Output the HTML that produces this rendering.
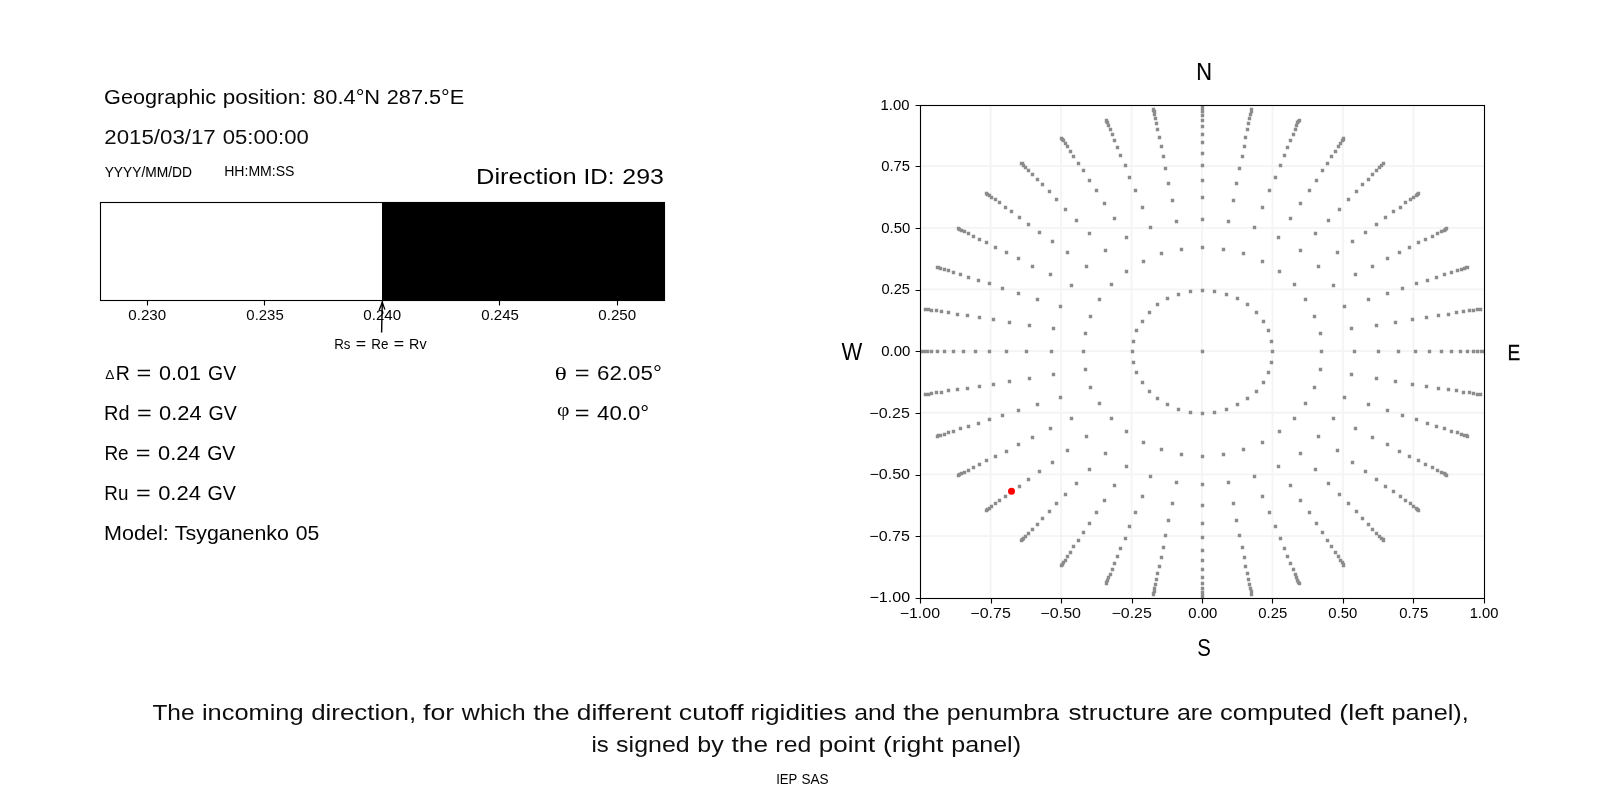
<!DOCTYPE html>
<html><head><meta charset="utf-8"><title>Cutoff rigidity direction</title>
<style>
html,body{margin:0;padding:0;background:#fff;width:1600px;height:800px;overflow:hidden}
svg{display:block;will-change:transform}
text{white-space:pre}
</style></head><body>
<svg width="1600" height="800" viewBox="0 0 1600 800">
<rect x="382" y="202" width="283.00" height="99" fill="#000"/>
<rect x="100.5" y="202.5" width="564.0" height="98.0" fill="none" stroke="#000" stroke-width="1.11"/>
<path d="M147.5 300.5v4.9M264.5 300.5v4.9M382.5 300.5v4.9M499.5 300.5v4.9M617.5 300.5v4.9" stroke="#000" stroke-width="1.11" fill="none"/>
<line x1="381.6" y1="332.6" x2="382.3" y2="301.5" stroke="#000" stroke-width="1.4"/>
<polyline points="379.2,310 382.3,302.4 384.9,309.6" fill="none" stroke="#000" stroke-width="1.3"/>
<path d="M990.65 105.5V598.5M920.5 536.05H1484.5M1061.10 105.5V598.5M920.5 474.40H1484.5M1131.55 105.5V598.5M920.5 412.75H1484.5M1202.00 105.5V598.5M920.5 351.10H1484.5M1272.45 105.5V598.5M920.5 289.45H1484.5M1342.90 105.5V598.5M920.5 227.80H1484.5M1413.35 105.5V598.5M920.5 166.15H1484.5" stroke="#f4f4f4" stroke-width="1.8" fill="none"/>
<clipPath id="axc"><rect x="920.5" y="105.5" width="564.00" height="493.00"/></clipPath>
<path d="M1200.8 349.8h3.4v3.4h-3.4zM1130.8 349.8h3.4v3.4h-3.4zM1131.8 360.8h3.4v3.4h-3.4zM1134.8 370.8h3.4v3.4h-3.4zM1140.8 380.8h3.4v3.4h-3.4zM1147.8 389.8h3.4v3.4h-3.4zM1155.8 396.8h3.4v3.4h-3.4zM1165.8 402.8h3.4v3.4h-3.4zM1176.8 407.8h3.4v3.4h-3.4zM1188.8 410.8h3.4v3.4h-3.4zM1200.8 411.8h3.4v3.4h-3.4zM1212.8 410.8h3.4v3.4h-3.4zM1224.8 407.8h3.4v3.4h-3.4zM1235.8 402.8h3.4v3.4h-3.4zM1245.8 396.8h3.4v3.4h-3.4zM1254.8 389.8h3.4v3.4h-3.4zM1261.8 380.8h3.4v3.4h-3.4zM1266.8 370.8h3.4v3.4h-3.4zM1269.8 360.8h3.4v3.4h-3.4zM1270.8 349.8h3.4v3.4h-3.4zM1269.8 339.8h3.4v3.4h-3.4zM1266.8 328.8h3.4v3.4h-3.4zM1261.8 319.8h3.4v3.4h-3.4zM1254.8 310.8h3.4v3.4h-3.4zM1245.8 302.8h3.4v3.4h-3.4zM1235.8 296.8h3.4v3.4h-3.4zM1224.8 292.8h3.4v3.4h-3.4zM1212.8 289.8h3.4v3.4h-3.4zM1200.8 288.8h3.4v3.4h-3.4zM1188.8 289.8h3.4v3.4h-3.4zM1176.8 292.8h3.4v3.4h-3.4zM1165.8 296.8h3.4v3.4h-3.4zM1155.8 302.8h3.4v3.4h-3.4zM1147.8 310.8h3.4v3.4h-3.4zM1140.8 319.8h3.4v3.4h-3.4zM1134.8 328.8h3.4v3.4h-3.4zM1131.8 339.8h3.4v3.4h-3.4zM1081.8 349.8h3.4v3.4h-3.4zM1083.8 367.8h3.4v3.4h-3.4zM1088.8 385.8h3.4v3.4h-3.4zM1097.8 401.8h3.4v3.4h-3.4zM1109.8 416.8h3.4v3.4h-3.4zM1124.8 429.8h3.4v3.4h-3.4zM1141.8 440.8h3.4v3.4h-3.4zM1159.8 447.8h3.4v3.4h-3.4zM1179.8 452.8h3.4v3.4h-3.4zM1200.8 454.8h3.4v3.4h-3.4zM1221.8 452.8h3.4v3.4h-3.4zM1241.8 447.8h3.4v3.4h-3.4zM1260.8 440.8h3.4v3.4h-3.4zM1277.8 429.8h3.4v3.4h-3.4zM1292.8 416.8h3.4v3.4h-3.4zM1303.8 401.8h3.4v3.4h-3.4zM1312.8 385.8h3.4v3.4h-3.4zM1318.8 367.8h3.4v3.4h-3.4zM1319.8 349.8h3.4v3.4h-3.4zM1318.8 331.8h3.4v3.4h-3.4zM1312.8 314.8h3.4v3.4h-3.4zM1303.8 297.8h3.4v3.4h-3.4zM1292.8 282.8h3.4v3.4h-3.4zM1277.8 269.8h3.4v3.4h-3.4zM1260.8 259.8h3.4v3.4h-3.4zM1241.8 251.8h3.4v3.4h-3.4zM1221.8 247.8h3.4v3.4h-3.4zM1200.8 245.8h3.4v3.4h-3.4zM1179.8 247.8h3.4v3.4h-3.4zM1159.8 251.8h3.4v3.4h-3.4zM1141.8 259.8h3.4v3.4h-3.4zM1124.8 269.8h3.4v3.4h-3.4zM1109.8 282.8h3.4v3.4h-3.4zM1097.8 297.8h3.4v3.4h-3.4zM1088.8 314.8h3.4v3.4h-3.4zM1083.8 331.8h3.4v3.4h-3.4zM1049.8 349.8h3.4v3.4h-3.4zM1051.8 372.8h3.4v3.4h-3.4zM1058.8 395.8h3.4v3.4h-3.4zM1069.8 416.8h3.4v3.4h-3.4zM1084.8 434.8h3.4v3.4h-3.4zM1103.8 451.8h3.4v3.4h-3.4zM1124.8 464.8h3.4v3.4h-3.4zM1148.8 474.8h3.4v3.4h-3.4zM1174.8 480.8h3.4v3.4h-3.4zM1200.8 482.8h3.4v3.4h-3.4zM1226.8 480.8h3.4v3.4h-3.4zM1252.8 474.8h3.4v3.4h-3.4zM1276.8 464.8h3.4v3.4h-3.4zM1298.8 451.8h3.4v3.4h-3.4zM1316.8 434.8h3.4v3.4h-3.4zM1331.8 416.8h3.4v3.4h-3.4zM1342.8 395.8h3.4v3.4h-3.4zM1349.8 372.8h3.4v3.4h-3.4zM1352.8 349.8h3.4v3.4h-3.4zM1349.8 326.8h3.4v3.4h-3.4zM1342.8 304.8h3.4v3.4h-3.4zM1331.8 283.8h3.4v3.4h-3.4zM1316.8 264.8h3.4v3.4h-3.4zM1298.8 248.8h3.4v3.4h-3.4zM1276.8 235.8h3.4v3.4h-3.4zM1252.8 225.8h3.4v3.4h-3.4zM1226.8 219.8h3.4v3.4h-3.4zM1200.8 217.8h3.4v3.4h-3.4zM1174.8 219.8h3.4v3.4h-3.4zM1148.8 225.8h3.4v3.4h-3.4zM1124.8 235.8h3.4v3.4h-3.4zM1103.8 248.8h3.4v3.4h-3.4zM1084.8 264.8h3.4v3.4h-3.4zM1069.8 283.8h3.4v3.4h-3.4zM1058.8 304.8h3.4v3.4h-3.4zM1051.8 326.8h3.4v3.4h-3.4zM1024.8 349.8h3.4v3.4h-3.4zM1027.8 376.8h3.4v3.4h-3.4zM1035.8 402.8h3.4v3.4h-3.4zM1048.8 426.8h3.4v3.4h-3.4zM1065.8 448.8h3.4v3.4h-3.4zM1087.8 467.8h3.4v3.4h-3.4zM1112.8 483.8h3.4v3.4h-3.4zM1140.8 494.8h3.4v3.4h-3.4zM1170.8 501.8h3.4v3.4h-3.4zM1200.8 503.8h3.4v3.4h-3.4zM1231.8 501.8h3.4v3.4h-3.4zM1260.8 494.8h3.4v3.4h-3.4zM1288.8 483.8h3.4v3.4h-3.4zM1313.8 467.8h3.4v3.4h-3.4zM1335.8 448.8h3.4v3.4h-3.4zM1353.8 426.8h3.4v3.4h-3.4zM1366.8 402.8h3.4v3.4h-3.4zM1374.8 376.8h3.4v3.4h-3.4zM1376.8 349.8h3.4v3.4h-3.4zM1374.8 323.8h3.4v3.4h-3.4zM1366.8 297.8h3.4v3.4h-3.4zM1353.8 272.8h3.4v3.4h-3.4zM1335.8 250.8h3.4v3.4h-3.4zM1313.8 231.8h3.4v3.4h-3.4zM1288.8 216.8h3.4v3.4h-3.4zM1260.8 205.8h3.4v3.4h-3.4zM1231.8 198.8h3.4v3.4h-3.4zM1200.8 195.8h3.4v3.4h-3.4zM1170.8 198.8h3.4v3.4h-3.4zM1140.8 205.8h3.4v3.4h-3.4zM1112.8 216.8h3.4v3.4h-3.4zM1087.8 231.8h3.4v3.4h-3.4zM1065.8 250.8h3.4v3.4h-3.4zM1048.8 272.8h3.4v3.4h-3.4zM1035.8 297.8h3.4v3.4h-3.4zM1027.8 323.8h3.4v3.4h-3.4zM1004.8 349.8h3.4v3.4h-3.4zM1007.8 379.8h3.4v3.4h-3.4zM1016.8 408.8h3.4v3.4h-3.4zM1030.8 435.8h3.4v3.4h-3.4zM1050.8 460.8h3.4v3.4h-3.4zM1074.8 481.8h3.4v3.4h-3.4zM1102.8 498.8h3.4v3.4h-3.4zM1133.8 510.8h3.4v3.4h-3.4zM1166.8 518.8h3.4v3.4h-3.4zM1200.8 521.8h3.4v3.4h-3.4zM1234.8 518.8h3.4v3.4h-3.4zM1267.8 510.8h3.4v3.4h-3.4zM1298.8 498.8h3.4v3.4h-3.4zM1326.8 481.8h3.4v3.4h-3.4zM1350.8 460.8h3.4v3.4h-3.4zM1370.8 435.8h3.4v3.4h-3.4zM1385.8 408.8h3.4v3.4h-3.4zM1393.8 379.8h3.4v3.4h-3.4zM1396.8 349.8h3.4v3.4h-3.4zM1393.8 320.8h3.4v3.4h-3.4zM1385.8 291.8h3.4v3.4h-3.4zM1370.8 264.8h3.4v3.4h-3.4zM1350.8 239.8h3.4v3.4h-3.4zM1326.8 218.8h3.4v3.4h-3.4zM1298.8 201.8h3.4v3.4h-3.4zM1267.8 188.8h3.4v3.4h-3.4zM1234.8 181.8h3.4v3.4h-3.4zM1200.8 178.8h3.4v3.4h-3.4zM1166.8 181.8h3.4v3.4h-3.4zM1133.8 188.8h3.4v3.4h-3.4zM1102.8 201.8h3.4v3.4h-3.4zM1074.8 218.8h3.4v3.4h-3.4zM1050.8 239.8h3.4v3.4h-3.4zM1030.8 264.8h3.4v3.4h-3.4zM1016.8 291.8h3.4v3.4h-3.4zM1007.8 320.8h3.4v3.4h-3.4zM987.8 349.8h3.4v3.4h-3.4zM991.8 382.8h3.4v3.4h-3.4zM1000.8 413.8h3.4v3.4h-3.4zM1016.8 442.8h3.4v3.4h-3.4zM1037.8 469.8h3.4v3.4h-3.4zM1063.8 492.8h3.4v3.4h-3.4zM1094.8 510.8h3.4v3.4h-3.4zM1127.8 524.8h3.4v3.4h-3.4zM1163.8 533.8h3.4v3.4h-3.4zM1200.8 535.8h3.4v3.4h-3.4zM1237.8 533.8h3.4v3.4h-3.4zM1273.8 524.8h3.4v3.4h-3.4zM1307.8 510.8h3.4v3.4h-3.4zM1337.8 492.8h3.4v3.4h-3.4zM1363.8 469.8h3.4v3.4h-3.4zM1385.8 442.8h3.4v3.4h-3.4zM1400.8 413.8h3.4v3.4h-3.4zM1410.8 382.8h3.4v3.4h-3.4zM1413.8 349.8h3.4v3.4h-3.4zM1410.8 317.8h3.4v3.4h-3.4zM1400.8 286.8h3.4v3.4h-3.4zM1385.8 256.8h3.4v3.4h-3.4zM1363.8 230.8h3.4v3.4h-3.4zM1337.8 207.8h3.4v3.4h-3.4zM1307.8 188.8h3.4v3.4h-3.4zM1273.8 175.8h3.4v3.4h-3.4zM1237.8 166.8h3.4v3.4h-3.4zM1200.8 163.8h3.4v3.4h-3.4zM1163.8 166.8h3.4v3.4h-3.4zM1127.8 175.8h3.4v3.4h-3.4zM1094.8 188.8h3.4v3.4h-3.4zM1063.8 207.8h3.4v3.4h-3.4zM1037.8 230.8h3.4v3.4h-3.4zM1016.8 256.8h3.4v3.4h-3.4zM1000.8 286.8h3.4v3.4h-3.4zM991.8 317.8h3.4v3.4h-3.4zM973.8 349.8h3.4v3.4h-3.4zM977.8 384.8h3.4v3.4h-3.4zM987.8 417.8h3.4v3.4h-3.4zM1004.8 449.8h3.4v3.4h-3.4zM1026.8 477.8h3.4v3.4h-3.4zM1054.8 501.8h3.4v3.4h-3.4zM1087.8 521.8h3.4v3.4h-3.4zM1123.8 536.8h3.4v3.4h-3.4zM1161.8 545.8h3.4v3.4h-3.4zM1200.8 548.8h3.4v3.4h-3.4zM1240.8 545.8h3.4v3.4h-3.4zM1278.8 536.8h3.4v3.4h-3.4zM1314.8 521.8h3.4v3.4h-3.4zM1346.8 501.8h3.4v3.4h-3.4zM1374.8 477.8h3.4v3.4h-3.4zM1397.8 449.8h3.4v3.4h-3.4zM1414.8 417.8h3.4v3.4h-3.4zM1424.8 384.8h3.4v3.4h-3.4zM1427.8 349.8h3.4v3.4h-3.4zM1424.8 315.8h3.4v3.4h-3.4zM1414.8 281.8h3.4v3.4h-3.4zM1397.8 250.8h3.4v3.4h-3.4zM1374.8 222.8h3.4v3.4h-3.4zM1346.8 197.8h3.4v3.4h-3.4zM1314.8 178.8h3.4v3.4h-3.4zM1278.8 163.8h3.4v3.4h-3.4zM1240.8 154.8h3.4v3.4h-3.4zM1200.8 151.8h3.4v3.4h-3.4zM1161.8 154.8h3.4v3.4h-3.4zM1123.8 163.8h3.4v3.4h-3.4zM1087.8 178.8h3.4v3.4h-3.4zM1054.8 197.8h3.4v3.4h-3.4zM1026.8 222.8h3.4v3.4h-3.4zM1004.8 250.8h3.4v3.4h-3.4zM987.8 281.8h3.4v3.4h-3.4zM977.8 315.8h3.4v3.4h-3.4zM961.8 349.8h3.4v3.4h-3.4zM965.8 386.8h3.4v3.4h-3.4zM976.8 421.8h3.4v3.4h-3.4zM993.8 454.8h3.4v3.4h-3.4zM1017.8 484.8h3.4v3.4h-3.4zM1047.8 509.8h3.4v3.4h-3.4zM1081.8 530.8h3.4v3.4h-3.4zM1118.8 546.8h3.4v3.4h-3.4zM1159.8 555.8h3.4v3.4h-3.4zM1200.8 558.8h3.4v3.4h-3.4zM1242.8 555.8h3.4v3.4h-3.4zM1282.8 546.8h3.4v3.4h-3.4zM1320.8 530.8h3.4v3.4h-3.4zM1354.8 509.8h3.4v3.4h-3.4zM1383.8 484.8h3.4v3.4h-3.4zM1407.8 454.8h3.4v3.4h-3.4zM1425.8 421.8h3.4v3.4h-3.4zM1436.8 386.8h3.4v3.4h-3.4zM1439.8 349.8h3.4v3.4h-3.4zM1436.8 313.8h3.4v3.4h-3.4zM1425.8 278.8h3.4v3.4h-3.4zM1407.8 245.8h3.4v3.4h-3.4zM1383.8 215.8h3.4v3.4h-3.4zM1354.8 189.8h3.4v3.4h-3.4zM1320.8 168.8h3.4v3.4h-3.4zM1282.8 153.8h3.4v3.4h-3.4zM1242.8 144.8h3.4v3.4h-3.4zM1200.8 140.8h3.4v3.4h-3.4zM1159.8 144.8h3.4v3.4h-3.4zM1118.8 153.8h3.4v3.4h-3.4zM1081.8 168.8h3.4v3.4h-3.4zM1047.8 189.8h3.4v3.4h-3.4zM1017.8 215.8h3.4v3.4h-3.4zM993.8 245.8h3.4v3.4h-3.4zM976.8 278.8h3.4v3.4h-3.4zM965.8 313.8h3.4v3.4h-3.4zM951.8 349.8h3.4v3.4h-3.4zM955.8 387.8h3.4v3.4h-3.4zM966.8 424.8h3.4v3.4h-3.4zM984.8 458.8h3.4v3.4h-3.4zM1009.8 489.8h3.4v3.4h-3.4zM1040.8 516.8h3.4v3.4h-3.4zM1076.8 538.8h3.4v3.4h-3.4zM1115.8 554.8h3.4v3.4h-3.4zM1157.8 564.8h3.4v3.4h-3.4zM1200.8 567.8h3.4v3.4h-3.4zM1243.8 564.8h3.4v3.4h-3.4zM1285.8 554.8h3.4v3.4h-3.4zM1325.8 538.8h3.4v3.4h-3.4zM1360.8 516.8h3.4v3.4h-3.4zM1391.8 489.8h3.4v3.4h-3.4zM1416.8 458.8h3.4v3.4h-3.4zM1434.8 424.8h3.4v3.4h-3.4zM1446.8 387.8h3.4v3.4h-3.4zM1449.8 349.8h3.4v3.4h-3.4zM1446.8 312.8h3.4v3.4h-3.4zM1434.8 275.8h3.4v3.4h-3.4zM1416.8 240.8h3.4v3.4h-3.4zM1391.8 209.8h3.4v3.4h-3.4zM1360.8 182.8h3.4v3.4h-3.4zM1325.8 161.8h3.4v3.4h-3.4zM1285.8 145.8h3.4v3.4h-3.4zM1243.8 135.8h3.4v3.4h-3.4zM1200.8 132.8h3.4v3.4h-3.4zM1157.8 135.8h3.4v3.4h-3.4zM1115.8 145.8h3.4v3.4h-3.4zM1076.8 161.8h3.4v3.4h-3.4zM1040.8 182.8h3.4v3.4h-3.4zM1009.8 209.8h3.4v3.4h-3.4zM984.8 240.8h3.4v3.4h-3.4zM966.8 275.8h3.4v3.4h-3.4zM955.8 312.8h3.4v3.4h-3.4zM942.8 349.8h3.4v3.4h-3.4zM946.8 388.8h3.4v3.4h-3.4zM958.8 426.8h3.4v3.4h-3.4zM977.8 462.8h3.4v3.4h-3.4zM1003.8 494.8h3.4v3.4h-3.4zM1035.8 522.8h3.4v3.4h-3.4zM1071.8 544.8h3.4v3.4h-3.4zM1112.8 561.8h3.4v3.4h-3.4zM1155.8 571.8h3.4v3.4h-3.4zM1200.8 575.8h3.4v3.4h-3.4zM1245.8 571.8h3.4v3.4h-3.4zM1288.8 561.8h3.4v3.4h-3.4zM1329.8 544.8h3.4v3.4h-3.4zM1366.8 522.8h3.4v3.4h-3.4zM1398.8 494.8h3.4v3.4h-3.4zM1423.8 462.8h3.4v3.4h-3.4zM1442.8 426.8h3.4v3.4h-3.4zM1454.8 388.8h3.4v3.4h-3.4zM1458.8 349.8h3.4v3.4h-3.4zM1454.8 310.8h3.4v3.4h-3.4zM1442.8 272.8h3.4v3.4h-3.4zM1423.8 237.8h3.4v3.4h-3.4zM1398.8 205.8h3.4v3.4h-3.4zM1366.8 177.8h3.4v3.4h-3.4zM1329.8 154.8h3.4v3.4h-3.4zM1288.8 138.8h3.4v3.4h-3.4zM1245.8 127.8h3.4v3.4h-3.4zM1200.8 124.8h3.4v3.4h-3.4zM1155.8 127.8h3.4v3.4h-3.4zM1112.8 138.8h3.4v3.4h-3.4zM1071.8 154.8h3.4v3.4h-3.4zM1035.8 177.8h3.4v3.4h-3.4zM1003.8 205.8h3.4v3.4h-3.4zM977.8 237.8h3.4v3.4h-3.4zM958.8 272.8h3.4v3.4h-3.4zM946.8 310.8h3.4v3.4h-3.4zM935.8 349.8h3.4v3.4h-3.4zM939.8 390.8h3.4v3.4h-3.4zM951.8 429.8h3.4v3.4h-3.4zM971.8 465.8h3.4v3.4h-3.4zM997.8 498.8h3.4v3.4h-3.4zM1030.8 527.8h3.4v3.4h-3.4zM1068.8 550.8h3.4v3.4h-3.4zM1110.8 567.8h3.4v3.4h-3.4zM1154.8 577.8h3.4v3.4h-3.4zM1200.8 581.8h3.4v3.4h-3.4zM1246.8 577.8h3.4v3.4h-3.4zM1291.8 567.8h3.4v3.4h-3.4zM1333.8 550.8h3.4v3.4h-3.4zM1370.8 527.8h3.4v3.4h-3.4zM1403.8 498.8h3.4v3.4h-3.4zM1430.8 465.8h3.4v3.4h-3.4zM1449.8 429.8h3.4v3.4h-3.4zM1461.8 390.8h3.4v3.4h-3.4zM1465.8 349.8h3.4v3.4h-3.4zM1461.8 309.8h3.4v3.4h-3.4zM1449.8 270.8h3.4v3.4h-3.4zM1430.8 234.8h3.4v3.4h-3.4zM1403.8 200.8h3.4v3.4h-3.4zM1370.8 172.8h3.4v3.4h-3.4zM1333.8 149.8h3.4v3.4h-3.4zM1291.8 132.8h3.4v3.4h-3.4zM1246.8 121.8h3.4v3.4h-3.4zM1200.8 118.8h3.4v3.4h-3.4zM1154.8 121.8h3.4v3.4h-3.4zM1110.8 132.8h3.4v3.4h-3.4zM1068.8 149.8h3.4v3.4h-3.4zM1030.8 172.8h3.4v3.4h-3.4zM997.8 200.8h3.4v3.4h-3.4zM971.8 234.8h3.4v3.4h-3.4zM951.8 270.8h3.4v3.4h-3.4zM939.8 309.8h3.4v3.4h-3.4zM929.8 349.8h3.4v3.4h-3.4zM934.8 390.8h3.4v3.4h-3.4zM946.8 430.8h3.4v3.4h-3.4zM966.8 468.8h3.4v3.4h-3.4zM993.8 501.8h3.4v3.4h-3.4zM1026.8 531.8h3.4v3.4h-3.4zM1065.8 554.8h3.4v3.4h-3.4zM1108.8 572.8h3.4v3.4h-3.4zM1153.8 582.8h3.4v3.4h-3.4zM1200.8 586.8h3.4v3.4h-3.4zM1247.8 582.8h3.4v3.4h-3.4zM1293.8 572.8h3.4v3.4h-3.4zM1336.8 554.8h3.4v3.4h-3.4zM1374.8 531.8h3.4v3.4h-3.4zM1408.8 501.8h3.4v3.4h-3.4zM1435.8 468.8h3.4v3.4h-3.4zM1455.8 430.8h3.4v3.4h-3.4zM1467.8 390.8h3.4v3.4h-3.4zM1471.8 349.8h3.4v3.4h-3.4zM1467.8 308.8h3.4v3.4h-3.4zM1455.8 268.8h3.4v3.4h-3.4zM1435.8 231.8h3.4v3.4h-3.4zM1408.8 197.8h3.4v3.4h-3.4zM1374.8 168.8h3.4v3.4h-3.4zM1336.8 144.8h3.4v3.4h-3.4zM1293.8 127.8h3.4v3.4h-3.4zM1247.8 116.8h3.4v3.4h-3.4zM1200.8 113.8h3.4v3.4h-3.4zM1153.8 116.8h3.4v3.4h-3.4zM1108.8 127.8h3.4v3.4h-3.4zM1065.8 144.8h3.4v3.4h-3.4zM1026.8 168.8h3.4v3.4h-3.4zM993.8 197.8h3.4v3.4h-3.4zM966.8 231.8h3.4v3.4h-3.4zM946.8 268.8h3.4v3.4h-3.4zM934.8 308.8h3.4v3.4h-3.4zM925.8 349.8h3.4v3.4h-3.4zM929.8 391.8h3.4v3.4h-3.4zM942.8 432.8h3.4v3.4h-3.4zM962.8 470.8h3.4v3.4h-3.4zM989.8 504.8h3.4v3.4h-3.4zM1023.8 534.8h3.4v3.4h-3.4zM1063.8 558.8h3.4v3.4h-3.4zM1106.8 575.8h3.4v3.4h-3.4zM1152.8 586.8h3.4v3.4h-3.4zM1200.8 590.8h3.4v3.4h-3.4zM1248.8 586.8h3.4v3.4h-3.4zM1294.8 575.8h3.4v3.4h-3.4zM1338.8 558.8h3.4v3.4h-3.4zM1377.8 534.8h3.4v3.4h-3.4zM1411.8 504.8h3.4v3.4h-3.4zM1439.8 470.8h3.4v3.4h-3.4zM1459.8 432.8h3.4v3.4h-3.4zM1471.8 391.8h3.4v3.4h-3.4zM1475.8 349.8h3.4v3.4h-3.4zM1471.8 308.8h3.4v3.4h-3.4zM1459.8 267.8h3.4v3.4h-3.4zM1439.8 229.8h3.4v3.4h-3.4zM1411.8 195.8h3.4v3.4h-3.4zM1377.8 165.8h3.4v3.4h-3.4zM1338.8 141.8h3.4v3.4h-3.4zM1294.8 123.8h3.4v3.4h-3.4zM1248.8 112.8h3.4v3.4h-3.4zM1200.8 109.8h3.4v3.4h-3.4zM1152.8 112.8h3.4v3.4h-3.4zM1106.8 123.8h3.4v3.4h-3.4zM1063.8 141.8h3.4v3.4h-3.4zM1023.8 165.8h3.4v3.4h-3.4zM989.8 195.8h3.4v3.4h-3.4zM962.8 229.8h3.4v3.4h-3.4zM942.8 267.8h3.4v3.4h-3.4zM929.8 308.8h3.4v3.4h-3.4zM922.8 349.8h3.4v3.4h-3.4zM926.8 392.8h3.4v3.4h-3.4zM938.8 433.8h3.4v3.4h-3.4zM959.8 471.8h3.4v3.4h-3.4zM987.8 506.8h3.4v3.4h-3.4zM1021.8 536.8h3.4v3.4h-3.4zM1061.8 560.8h3.4v3.4h-3.4zM1105.8 578.8h3.4v3.4h-3.4zM1152.8 589.8h3.4v3.4h-3.4zM1200.8 593.8h3.4v3.4h-3.4zM1249.8 589.8h3.4v3.4h-3.4zM1295.8 578.8h3.4v3.4h-3.4zM1340.8 560.8h3.4v3.4h-3.4zM1379.8 536.8h3.4v3.4h-3.4zM1414.8 506.8h3.4v3.4h-3.4zM1442.8 471.8h3.4v3.4h-3.4zM1462.8 433.8h3.4v3.4h-3.4zM1475.8 392.8h3.4v3.4h-3.4zM1479.8 349.8h3.4v3.4h-3.4zM1475.8 307.8h3.4v3.4h-3.4zM1462.8 266.8h3.4v3.4h-3.4zM1442.8 228.8h3.4v3.4h-3.4zM1414.8 193.8h3.4v3.4h-3.4zM1379.8 163.8h3.4v3.4h-3.4zM1340.8 138.8h3.4v3.4h-3.4zM1295.8 120.8h3.4v3.4h-3.4zM1249.8 109.8h3.4v3.4h-3.4zM1200.8 106.8h3.4v3.4h-3.4zM1152.8 109.8h3.4v3.4h-3.4zM1105.8 120.8h3.4v3.4h-3.4zM1061.8 138.8h3.4v3.4h-3.4zM1021.8 163.8h3.4v3.4h-3.4zM987.8 193.8h3.4v3.4h-3.4zM959.8 228.8h3.4v3.4h-3.4zM938.8 266.8h3.4v3.4h-3.4zM926.8 307.8h3.4v3.4h-3.4zM919.8 349.8h3.4v3.4h-3.4zM924.8 392.8h3.4v3.4h-3.4zM936.8 433.8h3.4v3.4h-3.4zM957.8 472.8h3.4v3.4h-3.4zM985.8 507.8h3.4v3.4h-3.4zM1020.8 537.8h3.4v3.4h-3.4zM1060.8 562.8h3.4v3.4h-3.4zM1104.8 580.8h3.4v3.4h-3.4zM1151.8 591.8h3.4v3.4h-3.4zM1200.8 595.8h3.4v3.4h-3.4zM1249.8 591.8h3.4v3.4h-3.4zM1296.8 580.8h3.4v3.4h-3.4zM1341.8 562.8h3.4v3.4h-3.4zM1381.8 537.8h3.4v3.4h-3.4zM1415.8 507.8h3.4v3.4h-3.4zM1443.8 472.8h3.4v3.4h-3.4zM1464.8 433.8h3.4v3.4h-3.4zM1477.8 392.8h3.4v3.4h-3.4zM1481.8 349.8h3.4v3.4h-3.4zM1477.8 307.8h3.4v3.4h-3.4zM1464.8 265.8h3.4v3.4h-3.4zM1443.8 227.8h3.4v3.4h-3.4zM1415.8 192.8h3.4v3.4h-3.4zM1381.8 161.8h3.4v3.4h-3.4zM1341.8 137.8h3.4v3.4h-3.4zM1296.8 119.8h3.4v3.4h-3.4zM1249.8 108.8h3.4v3.4h-3.4zM1200.8 104.8h3.4v3.4h-3.4zM1151.8 108.8h3.4v3.4h-3.4zM1104.8 119.8h3.4v3.4h-3.4zM1060.8 137.8h3.4v3.4h-3.4zM1020.8 161.8h3.4v3.4h-3.4zM985.8 192.8h3.4v3.4h-3.4zM957.8 227.8h3.4v3.4h-3.4zM936.8 265.8h3.4v3.4h-3.4zM924.8 307.8h3.4v3.4h-3.4zM918.8 349.8h3.4v3.4h-3.4zM923.8 392.8h3.4v3.4h-3.4zM935.8 434.8h3.4v3.4h-3.4zM956.8 473.8h3.4v3.4h-3.4zM984.8 508.8h3.4v3.4h-3.4zM1019.8 538.8h3.4v3.4h-3.4zM1059.8 563.8h3.4v3.4h-3.4zM1104.8 581.8h3.4v3.4h-3.4zM1151.8 592.8h3.4v3.4h-3.4zM1200.8 596.8h3.4v3.4h-3.4zM1249.8 592.8h3.4v3.4h-3.4zM1297.8 581.8h3.4v3.4h-3.4zM1341.8 563.8h3.4v3.4h-3.4zM1381.8 538.8h3.4v3.4h-3.4zM1416.8 508.8h3.4v3.4h-3.4zM1444.8 473.8h3.4v3.4h-3.4zM1465.8 434.8h3.4v3.4h-3.4zM1478.8 392.8h3.4v3.4h-3.4zM1482.8 349.8h3.4v3.4h-3.4zM1478.8 307.8h3.4v3.4h-3.4zM1465.8 265.8h3.4v3.4h-3.4zM1444.8 226.8h3.4v3.4h-3.4zM1416.8 191.8h3.4v3.4h-3.4zM1381.8 161.8h3.4v3.4h-3.4zM1341.8 136.8h3.4v3.4h-3.4zM1297.8 118.8h3.4v3.4h-3.4zM1249.8 107.8h3.4v3.4h-3.4zM1200.8 103.8h3.4v3.4h-3.4zM1151.8 107.8h3.4v3.4h-3.4zM1104.8 118.8h3.4v3.4h-3.4zM1059.8 136.8h3.4v3.4h-3.4zM1019.8 161.8h3.4v3.4h-3.4zM984.8 191.8h3.4v3.4h-3.4zM956.8 226.8h3.4v3.4h-3.4zM935.8 265.8h3.4v3.4h-3.4zM923.8 307.8h3.4v3.4h-3.4z" fill="#8c8c8c" clip-path="url(#axc)"/>
<circle cx="1011.5" cy="491.3" r="3.5" fill="#ff0000"/>
<rect x="920.5" y="105.5" width="564.00" height="493.00" fill="none" stroke="#000" stroke-width="1.11"/>
<path d="M920.5 598.5v4.9M991.5 598.5v4.9M1061.5 598.5v4.9M1132.5 598.5v4.9M1202.5 598.5v4.9M1272.5 598.5v4.9M1343.5 598.5v4.9M1413.5 598.5v4.9M1484.5 598.5v4.9M920.5 105.5h-4.9M920.5 166.5h-4.9M920.5 228.5h-4.9M920.5 290.5h-4.9M920.5 351.5h-4.9M920.5 413.5h-4.9M920.5 475.5h-4.9M920.5 536.5h-4.9M920.5 598.5h-4.9" stroke="#000" stroke-width="1.11" fill="none"/>
<text x="104.14" y="103.80" font-family="Liberation Sans" font-size="19.97" fill="#070707" textLength="111.95" lengthAdjust="spacingAndGlyphs">Geographic</text>
<text x="222.81" y="103.80" font-family="Liberation Sans" font-size="19.97" fill="#070707" textLength="83.62" lengthAdjust="spacingAndGlyphs">position:</text>
<text x="313.13" y="103.80" font-family="Liberation Sans" font-size="19.97" fill="#070707" textLength="67.02" lengthAdjust="spacingAndGlyphs">80.4°N</text>
<text x="386.74" y="103.80" font-family="Liberation Sans" font-size="19.97" fill="#070707" textLength="77.51" lengthAdjust="spacingAndGlyphs">287.5°E</text>
<text x="104.30" y="143.90" font-family="Liberation Sans" font-size="19.77" fill="#0e0e0e" textLength="111.47" lengthAdjust="spacingAndGlyphs">2015/03/17</text>
<text x="222.78" y="143.90" font-family="Liberation Sans" font-size="19.77" fill="#0e0e0e" textLength="86.04" lengthAdjust="spacingAndGlyphs">05:00:00</text>
<text x="104.67" y="176.90" font-family="Liberation Sans" font-size="14.10" stroke="#000" stroke-width="0.07" textLength="87.25" lengthAdjust="spacingAndGlyphs">YYYY/MM/DD</text>
<text x="224.20" y="176.00" font-family="Liberation Sans" font-size="14.24" textLength="70.28" lengthAdjust="spacingAndGlyphs">HH:MM:SS</text>
<text x="476.02" y="183.75" font-family="Liberation Sans" font-size="22.75" fill="#040404" textLength="100.67" lengthAdjust="spacingAndGlyphs">Direction</text>
<text x="583.64" y="183.75" font-family="Liberation Sans" font-size="22.75" fill="#040404" textLength="30.91" lengthAdjust="spacingAndGlyphs">ID:</text>
<text x="622.38" y="183.75" font-family="Liberation Sans" font-size="22.75" fill="#040404" textLength="41.49" lengthAdjust="spacingAndGlyphs">293</text>
<text x="128.32" y="320.10" font-family="Liberation Sans" font-size="14.53" fill="#040404" textLength="37.85" lengthAdjust="spacingAndGlyphs">0.230</text>
<text x="246.32" y="320.10" font-family="Liberation Sans" font-size="14.53" fill="#090909" textLength="37.42" lengthAdjust="spacingAndGlyphs">0.235</text>
<text x="363.32" y="320.10" font-family="Liberation Sans" font-size="14.53" textLength="37.83" lengthAdjust="spacingAndGlyphs">0.240</text>
<text x="481.32" y="320.10" font-family="Liberation Sans" font-size="14.53" fill="#040404" textLength="37.57" lengthAdjust="spacingAndGlyphs">0.245</text>
<text x="598.32" y="320.10" font-family="Liberation Sans" font-size="14.53" fill="#040404" textLength="37.85" lengthAdjust="spacingAndGlyphs">0.250</text>
<text x="334.25" y="349.10" font-family="Liberation Sans" font-size="14.68" fill="#020202" textLength="16.24" lengthAdjust="spacingAndGlyphs">Rs</text>
<text x="355.75" y="349.10" font-family="Liberation Sans" font-size="14.68" fill="#020202" textLength="10.36" lengthAdjust="spacingAndGlyphs">=</text>
<text x="371.35" y="349.10" font-family="Liberation Sans" font-size="14.68" fill="#020202" textLength="17.17" lengthAdjust="spacingAndGlyphs">Re</text>
<text x="393.75" y="349.10" font-family="Liberation Sans" font-size="14.68" fill="#020202" textLength="10.38" lengthAdjust="spacingAndGlyphs">=</text>
<text x="409.12" y="349.10" font-family="Liberation Sans" font-size="14.68" fill="#020202" textLength="17.43" lengthAdjust="spacingAndGlyphs">Rv</text>
<text x="105.29" y="379.14" font-family="Liberation Sans" font-size="13.67" fill="#0f0f0f" textLength="9.17" lengthAdjust="spacingAndGlyphs">Δ</text>
<text x="115.78" y="379.90" font-family="Liberation Sans" font-size="20.20" textLength="14.10" lengthAdjust="spacingAndGlyphs">R</text>
<text x="136.60" y="379.90" font-family="Liberation Sans" font-size="20.20" textLength="14.76" lengthAdjust="spacingAndGlyphs">=</text>
<text x="158.98" y="379.90" font-family="Liberation Sans" font-size="20.20" textLength="41.93" lengthAdjust="spacingAndGlyphs">0.01</text>
<text x="208.10" y="379.90" font-family="Liberation Sans" font-size="20.20" textLength="28.19" lengthAdjust="spacingAndGlyphs">GV</text>
<text x="104.11" y="419.90" font-family="Liberation Sans" font-size="20.35" textLength="25.44" lengthAdjust="spacingAndGlyphs">Rd</text>
<text x="137.11" y="419.90" font-family="Liberation Sans" font-size="20.35" textLength="14.76" lengthAdjust="spacingAndGlyphs">=</text>
<text x="159.13" y="419.90" font-family="Liberation Sans" font-size="20.35" textLength="42.53" lengthAdjust="spacingAndGlyphs">0.24</text>
<text x="208.45" y="419.90" font-family="Liberation Sans" font-size="20.35" textLength="28.26" lengthAdjust="spacingAndGlyphs">GV</text>
<text x="104.38" y="459.80" font-family="Liberation Sans" font-size="20.20" stroke="#000" stroke-width="0.02" textLength="24.16" lengthAdjust="spacingAndGlyphs">Re</text>
<text x="135.85" y="459.80" font-family="Liberation Sans" font-size="20.20" stroke="#000" stroke-width="0.02" textLength="14.73" lengthAdjust="spacingAndGlyphs">=</text>
<text x="158.00" y="459.80" font-family="Liberation Sans" font-size="20.20" stroke="#000" stroke-width="0.02" textLength="42.46" lengthAdjust="spacingAndGlyphs">0.24</text>
<text x="207.16" y="459.80" font-family="Liberation Sans" font-size="20.20" stroke="#000" stroke-width="0.02" textLength="28.25" lengthAdjust="spacingAndGlyphs">GV</text>
<text x="104.36" y="499.70" font-family="Liberation Sans" font-size="20.20" textLength="24.06" lengthAdjust="spacingAndGlyphs">Ru</text>
<text x="136.05" y="499.70" font-family="Liberation Sans" font-size="20.20" textLength="14.76" lengthAdjust="spacingAndGlyphs">=</text>
<text x="158.15" y="499.70" font-family="Liberation Sans" font-size="20.20" textLength="42.71" lengthAdjust="spacingAndGlyphs">0.24</text>
<text x="207.39" y="499.70" font-family="Liberation Sans" font-size="20.20" textLength="28.44" lengthAdjust="spacingAndGlyphs">GV</text>
<text x="104.07" y="539.50" font-family="Liberation Sans" font-size="20.20" fill="#030303" textLength="64.71" lengthAdjust="spacingAndGlyphs">Model:</text>
<text x="174.80" y="539.50" font-family="Liberation Sans" font-size="20.20" fill="#030303" textLength="114.16" lengthAdjust="spacingAndGlyphs">Tsyganenko</text>
<text x="295.73" y="539.50" font-family="Liberation Sans" font-size="20.20" fill="#030303" textLength="23.56" lengthAdjust="spacingAndGlyphs">05</text>
<text x="554.75" y="380.06" font-family="Liberation Serif" font-size="18.50" textLength="12.09" lengthAdjust="spacingAndGlyphs">θ</text>
<text x="574.87" y="379.80" font-family="Liberation Sans" font-size="20.06" fill="#0b0b0b" textLength="14.84" lengthAdjust="spacingAndGlyphs">=</text>
<text x="597.06" y="379.80" font-family="Liberation Sans" font-size="20.06" fill="#0b0b0b" textLength="64.76" lengthAdjust="spacingAndGlyphs">62.05°</text>
<text x="557.12" y="416.37" font-family="Liberation Serif" font-size="18.50" textLength="12.48" lengthAdjust="spacingAndGlyphs">φ</text>
<text x="574.80" y="420.00" font-family="Liberation Sans" font-size="20.35" fill="#030303" textLength="14.79" lengthAdjust="spacingAndGlyphs">=</text>
<text x="597.09" y="420.00" font-family="Liberation Sans" font-size="20.35" fill="#030303" textLength="52.09" lengthAdjust="spacingAndGlyphs">40.0°</text>
<text x="1196.30" y="79.70" font-family="Liberation Sans" font-size="23.43" stroke="#000" stroke-width="0.18" textLength="15.72" lengthAdjust="spacingAndGlyphs">N</text>
<text x="1197.35" y="655.70" font-family="Liberation Sans" font-size="23.35" textLength="13.58" lengthAdjust="spacingAndGlyphs">S</text>
<text x="841.53" y="359.80" font-family="Liberation Sans" font-size="23.65" textLength="20.78" lengthAdjust="spacingAndGlyphs">W</text>
<text x="1507.48" y="359.70" font-family="Liberation Sans" font-size="22.75" stroke="#000" stroke-width="0.30" textLength="12.74" lengthAdjust="spacingAndGlyphs">E</text>
<text x="152.40" y="720.00" font-family="Liberation Sans" font-size="22.00" fill="#0e0e0e" textLength="42.17" lengthAdjust="spacingAndGlyphs">The</text>
<text x="201.95" y="720.00" font-family="Liberation Sans" font-size="22.00" fill="#0e0e0e" textLength="101.67" lengthAdjust="spacingAndGlyphs">incoming</text>
<text x="311.15" y="720.00" font-family="Liberation Sans" font-size="22.00" fill="#0e0e0e" textLength="105.09" lengthAdjust="spacingAndGlyphs">direction,</text>
<text x="423.04" y="720.00" font-family="Liberation Sans" font-size="22.00" fill="#0e0e0e" textLength="31.17" lengthAdjust="spacingAndGlyphs">for</text>
<text x="461.83" y="720.00" font-family="Liberation Sans" font-size="22.00" fill="#0e0e0e" textLength="63.93" lengthAdjust="spacingAndGlyphs">which</text>
<text x="533.23" y="720.00" font-family="Liberation Sans" font-size="22.00" fill="#0e0e0e" textLength="36.45" lengthAdjust="spacingAndGlyphs">the</text>
<text x="576.82" y="720.00" font-family="Liberation Sans" font-size="22.00" fill="#0e0e0e" textLength="94.53" lengthAdjust="spacingAndGlyphs">different</text>
<text x="678.85" y="720.00" font-family="Liberation Sans" font-size="22.00" fill="#0e0e0e" textLength="64.81" lengthAdjust="spacingAndGlyphs">cutoff</text>
<text x="750.46" y="720.00" font-family="Liberation Sans" font-size="22.00" fill="#0e0e0e" textLength="96.21" lengthAdjust="spacingAndGlyphs">rigidities</text>
<text x="854.25" y="720.00" font-family="Liberation Sans" font-size="22.00" fill="#0e0e0e" textLength="41.37" lengthAdjust="spacingAndGlyphs">and</text>
<text x="903.23" y="720.00" font-family="Liberation Sans" font-size="22.00" fill="#0e0e0e" textLength="36.45" lengthAdjust="spacingAndGlyphs">the</text>
<text x="946.87" y="720.00" font-family="Liberation Sans" font-size="22.00" fill="#0e0e0e" textLength="112.41" lengthAdjust="spacingAndGlyphs">penumbra</text>
<text x="1068.60" y="720.00" font-family="Liberation Sans" font-size="22.00" fill="#0e0e0e" textLength="101.26" lengthAdjust="spacingAndGlyphs">structure</text>
<text x="1176.90" y="720.00" font-family="Liberation Sans" font-size="22.00" fill="#0e0e0e" textLength="36.04" lengthAdjust="spacingAndGlyphs">are</text>
<text x="1220.00" y="720.00" font-family="Liberation Sans" font-size="22.00" fill="#0e0e0e" textLength="111.89" lengthAdjust="spacingAndGlyphs">computed</text>
<text x="1339.35" y="720.00" font-family="Liberation Sans" font-size="22.00" fill="#0e0e0e" textLength="44.59" lengthAdjust="spacingAndGlyphs">(left</text>
<text x="1391.50" y="720.00" font-family="Liberation Sans" font-size="22.00" fill="#0e0e0e" textLength="77.32" lengthAdjust="spacingAndGlyphs">panel),</text>
<text x="591.47" y="751.90" font-family="Liberation Sans" font-size="22.00" fill="#0f0f0f" textLength="17.26" lengthAdjust="spacingAndGlyphs">is</text>
<text x="616.11" y="751.90" font-family="Liberation Sans" font-size="22.00" fill="#0f0f0f" textLength="73.58" lengthAdjust="spacingAndGlyphs">signed</text>
<text x="697.23" y="751.90" font-family="Liberation Sans" font-size="22.00" fill="#0f0f0f" textLength="26.50" lengthAdjust="spacingAndGlyphs">by</text>
<text x="731.57" y="751.90" font-family="Liberation Sans" font-size="22.00" fill="#0f0f0f" textLength="36.42" lengthAdjust="spacingAndGlyphs">the</text>
<text x="775.39" y="751.90" font-family="Liberation Sans" font-size="22.00" fill="#0f0f0f" textLength="35.85" lengthAdjust="spacingAndGlyphs">red</text>
<text x="818.86" y="751.90" font-family="Liberation Sans" font-size="22.00" fill="#0f0f0f" textLength="56.45" lengthAdjust="spacingAndGlyphs">point</text>
<text x="882.91" y="751.90" font-family="Liberation Sans" font-size="22.00" fill="#0f0f0f" textLength="60.59" lengthAdjust="spacingAndGlyphs">(right</text>
<text x="951.31" y="751.90" font-family="Liberation Sans" font-size="22.00" fill="#0f0f0f" textLength="69.72" lengthAdjust="spacingAndGlyphs">panel)</text>
<text x="776.13" y="784.00" font-family="Liberation Sans" font-size="14.53" fill="#030303" textLength="21.16" lengthAdjust="spacingAndGlyphs">IEP</text>
<text x="801.41" y="784.00" font-family="Liberation Sans" font-size="14.53" fill="#030303" textLength="27.20" lengthAdjust="spacingAndGlyphs">SAS</text>
<text x="899.68" y="617.80" font-family="Liberation Sans" font-size="14.10" fill="#070707" textLength="40.33" lengthAdjust="spacingAndGlyphs">−1.00</text>
<text x="869.50" y="602.30" font-family="Liberation Sans" font-size="14.39" textLength="40.56" lengthAdjust="spacingAndGlyphs">−1.00</text>
<text x="970.32" y="617.80" font-family="Liberation Sans" font-size="14.10" fill="#080808" textLength="40.53" lengthAdjust="spacingAndGlyphs">−0.75</text>
<text x="869.38" y="540.70" font-family="Liberation Sans" font-size="14.39" fill="#080808" textLength="40.45" lengthAdjust="spacingAndGlyphs">−0.75</text>
<text x="1040.35" y="617.80" font-family="Liberation Sans" font-size="14.10" fill="#0c0c0c" textLength="40.71" lengthAdjust="spacingAndGlyphs">−0.50</text>
<text x="869.42" y="479.10" font-family="Liberation Sans" font-size="14.39" fill="#0b0b0b" textLength="40.56" lengthAdjust="spacingAndGlyphs">−0.50</text>
<text x="1111.46" y="617.80" font-family="Liberation Sans" font-size="14.10" fill="#0d0d0d" textLength="40.43" lengthAdjust="spacingAndGlyphs">−0.25</text>
<text x="869.31" y="417.50" font-family="Liberation Sans" font-size="14.39" fill="#0e0e0e" textLength="40.55" lengthAdjust="spacingAndGlyphs">−0.25</text>
<text x="1188.36" y="617.80" font-family="Liberation Sans" font-size="14.10" stroke="#000" stroke-width="0.05" textLength="28.97" lengthAdjust="spacingAndGlyphs">0.00</text>
<text x="881.31" y="355.90" font-family="Liberation Sans" font-size="14.39" stroke="#000" stroke-width="0.04" textLength="29.04" lengthAdjust="spacingAndGlyphs">0.00</text>
<text x="1258.21" y="617.80" font-family="Liberation Sans" font-size="14.10" fill="#040404" textLength="29.02" lengthAdjust="spacingAndGlyphs">0.25</text>
<text x="881.42" y="294.30" font-family="Liberation Sans" font-size="14.39" fill="#010101" textLength="28.57" lengthAdjust="spacingAndGlyphs">0.25</text>
<text x="1328.36" y="617.80" font-family="Liberation Sans" font-size="14.10" fill="#010101" textLength="29.03" lengthAdjust="spacingAndGlyphs">0.50</text>
<text x="881.30" y="232.70" font-family="Liberation Sans" font-size="14.39" textLength="29.05" lengthAdjust="spacingAndGlyphs">0.50</text>
<text x="1399.23" y="617.80" font-family="Liberation Sans" font-size="14.10" textLength="28.93" lengthAdjust="spacingAndGlyphs">0.75</text>
<text x="881.16" y="171.10" font-family="Liberation Sans" font-size="14.39" textLength="28.83" lengthAdjust="spacingAndGlyphs">0.75</text>
<text x="1469.67" y="617.80" font-family="Liberation Sans" font-size="14.10" stroke="#000" stroke-width="0.05" textLength="28.69" lengthAdjust="spacingAndGlyphs">1.00</text>
<text x="880.58" y="109.50" font-family="Liberation Sans" font-size="14.39" stroke="#000" stroke-width="0.06" textLength="28.80" lengthAdjust="spacingAndGlyphs">1.00</text>
</svg>
</body></html>
